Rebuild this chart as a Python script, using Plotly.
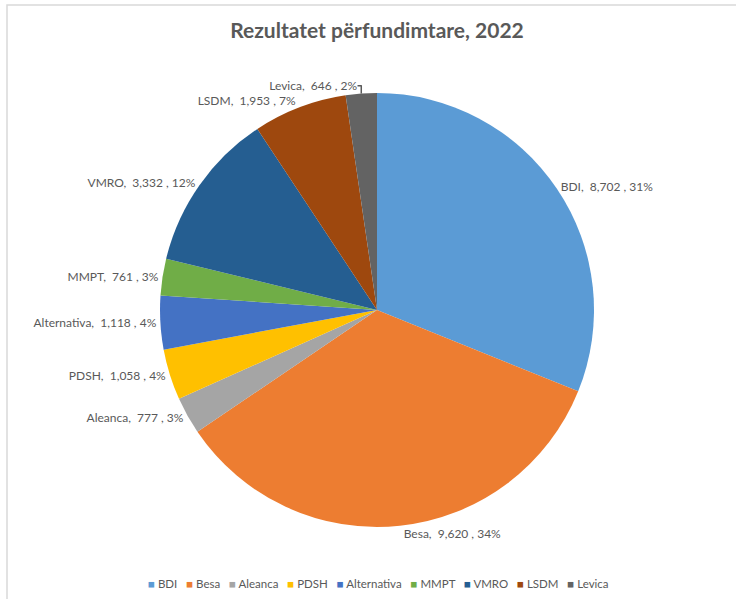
import plotly.graph_objects as go

parties = ["BDI", "Besa", "Aleanca", "PDSH", "Alternativa", "MMPT", "VMRO", "LSDM", "Levica"]
votes = [8702, 9620, 777, 1058, 1118, 761, 3332, 1953, 646]
colors = ["#5B9BD5", "#ED7D31", "#A5A5A5", "#FFC000", "#4472C4", "#70AD47", "#255E91", "#9E480E", "#636363"]

W, H = 736, 599
cx, cy, r = 377, 310, 217
FONT = "Lato, Open Sans, Liberation Sans, sans-serif"
GREY = "#595959"

fig = go.Figure(go.Pie(
    labels=parties,
    values=votes,
    sort=False,
    direction="clockwise",
    rotation=0,
    marker=dict(colors=colors, line=dict(color="white", width=0)),
    textposition="outside",
    texttemplate="%{label},  %{value:,} , %{percent:.0%}",
    outsidetextfont=dict(family=FONT, size=12, color=GREY),
    domain=dict(x=[(cx - r) / W, (cx + r) / W], y=[(H - cy - r) / H, (H - cy + r) / H]),
    automargin=False,
    showlegend=False,
    hoverinfo="label+value+percent",
))

# legend built as text from the same lists
nb = "\u00a0"
legend_text = (nb * 3).join(
    f"<span style='color:{c}'>■</span>{nb}{p}" for p, c in zip(parties, colors)
)

fig.update_layout(
    width=W, height=H,
    margin=dict(l=0, r=0, t=0, b=0),
    paper_bgcolor="white",
    title=dict(
        text="<b>Rezultatet përfundimtare, 2022</b>",
        x=377 / W, xanchor="center", y=1 - 31 / H, yanchor="middle",
        font=dict(family=FONT, size=21, color=GREY),
    ),
    annotations=[dict(
        text=legend_text, xref="paper", yref="paper",
        x=378 / W, xanchor="center", y=1 - 583 / H, yanchor="middle",
        showarrow=False, font=dict(family=FONT, size=11.5, color=GREY),
    )],
    shapes=[dict(
        type="rect", xref="paper", yref="paper",
        x0=7 / W, x1=1.01, y0=-0.01, y1=1 - 5 / H,
        line=dict(color="#D9D9D9", width=1.5), fillcolor="rgba(0,0,0,0)",
    )],
)

fig.write_html(
    "out.html",
    config={"displayModeBar": False},
    post_script="document.body.style.margin='0';document.body.style.overflow='hidden';",
)
